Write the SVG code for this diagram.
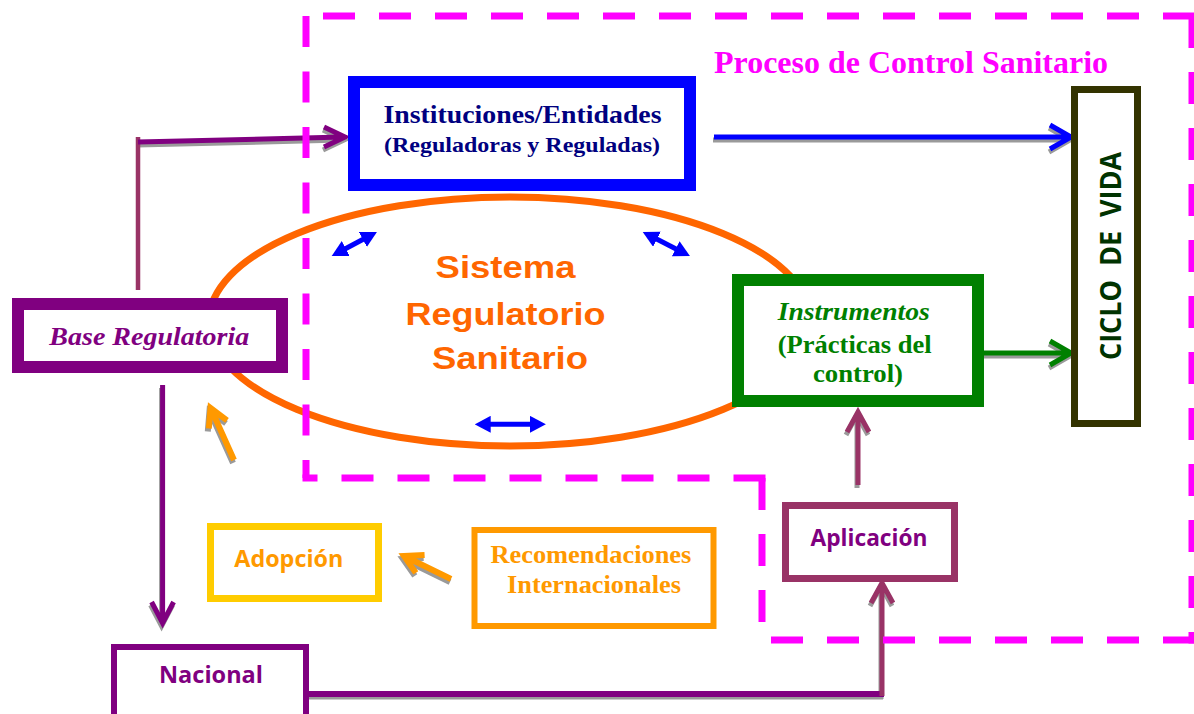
<svg xmlns="http://www.w3.org/2000/svg" xmlns:xlink="http://www.w3.org/1999/xlink" width="1194" height="714" viewBox="0 0 1194 714">
<style>
.box{fill:#fff}
.sans{font-family:"Open Sans","Liberation Sans",sans-serif;font-weight:bold}
.serif{font-family:"Liberation Serif","Times New Roman",serif;font-weight:bold}
.mid{text-anchor:middle}
.conn{fill:none;stroke-linejoin:miter;stroke-linecap:butt}
.sh{stroke:#9a9a9a}
.frame{fill:none;stroke:#FF00FF;stroke-width:7;stroke-dasharray:32 24}
</style>
<defs>
<marker id="dh" viewBox="0 0 16 17" refX="2" refY="8.5" markerWidth="16" markerHeight="17" markerUnits="userSpaceOnUse" orient="auto-start-reverse">
<path d="M0,0 L16,8.5 L0,17 Z" fill="#0000FF"/>
</marker>
<path id="a1" d="M138,142 L343,137.1 M324,127 L345,137 L324,147"/>
<path id="a2" d="M714,137 L1069,137 M1050,125 L1071,137 L1050,149"/>
<path id="a3" d="M984,353 L1069,353 M1050,341 L1071,353 L1050,365"/>
<path id="a4" d="M858,485 L858,414 M847,432 L858,412 L869,432"/>
<path id="a5h" d="M309,694 L884,694"/>
<path id="a5v" d="M882,696 L882,585 M871,603 L882,583 L893,603"/>
<path id="a6" d="M162.6,385 L162.6,621 M151.6,602 L162.6,623 L173.6,602"/>
<path id="a7" d="M451,579 L406,557 M424.6,554.9 L404,556 L415.8,572.9"/>
<path id="a8" d="M234,460 L211.5,410 M227,420.3 L210.5,408 L208.8,428.5"/>
</defs>
<rect width="1194" height="714" fill="#fff"/>

<g id="sistema">
<ellipse cx="510" cy="321.5" rx="301" ry="124.5" fill="none" stroke="#FF6600" stroke-width="7"/>
<text class="mid" font-family="Liberation Sans, Arial, sans-serif" font-weight="bold" font-size="32" fill="#FF6600">
<tspan x="510" y="278" textLength="140" lengthAdjust="spacingAndGlyphs">Sistema</tspan>
<tspan x="510" y="325" textLength="200" lengthAdjust="spacingAndGlyphs">Regulatorio</tspan>
<tspan x="510" y="369" textLength="156" lengthAdjust="spacingAndGlyphs">Sanitario</tspan>
</text>
</g>

<g id="connectors">
<g class="conn sh" stroke-width="5" transform="translate(-1,3)">
<use xlink:href="#a1"/><use xlink:href="#a2"/><use xlink:href="#a3"/><use xlink:href="#a4"/>
<use xlink:href="#a5h"/><use xlink:href="#a5v"/><use xlink:href="#a6"/>
<use xlink:href="#a7" stroke-width="6"/><use xlink:href="#a8" stroke-width="6"/>
</g>
<line x1="138" y1="290" x2="138" y2="137" stroke="#993366" stroke-width="4.5"/>
<use xlink:href="#a1" class="conn" stroke="#800080" stroke-width="5"/>
<use xlink:href="#a2" class="conn" stroke="#0000FF" stroke-width="5"/>
<use xlink:href="#a3" class="conn" stroke="#008000" stroke-width="5"/>
<use xlink:href="#a4" class="conn" stroke="#993366" stroke-width="5"/>
<use xlink:href="#a5h" class="conn" stroke="#800080" stroke-width="6"/>
<use xlink:href="#a5v" class="conn" stroke="#993366" stroke-width="5"/>
<use xlink:href="#a6" class="conn" stroke="#800080" stroke-width="5"/>
<use xlink:href="#a7" class="conn" stroke="#FF9900" stroke-width="6"/>
<use xlink:href="#a8" class="conn" stroke="#FF9900" stroke-width="6"/>
<g stroke="#0000FF" stroke-width="5" marker-start="url(#dh)" marker-end="url(#dh)">
<line x1="344" y1="249.5" x2="364.6" y2="238.5"/>
<line x1="655.2" y1="238.3" x2="677.5" y2="249.7"/>
<line x1="488.7" y1="424.3" x2="531.9" y2="424.3"/>
</g>
</g>

<g id="instituciones">
<rect class="box" x="354" y="82" width="336" height="103" stroke="#0000FF" stroke-width="12"/>
<text class="serif mid" x="522.5" y="123" font-size="26" fill="#000080" textLength="278" lengthAdjust="spacingAndGlyphs">Instituciones/Entidades</text>
<text class="serif mid" x="522" y="152" font-size="22" fill="#000080" textLength="276" lengthAdjust="spacingAndGlyphs">(Reguladoras y Reguladas)</text>
</g>

<g id="base-regulatoria">
<rect class="box" x="18" y="304" width="264" height="63" stroke="#800080" stroke-width="12"/>
<text class="serif mid" x="149.3" y="345" font-size="25" font-style="italic" fill="#800080" textLength="200" lengthAdjust="spacingAndGlyphs">Base Regulatoria</text>
</g>

<g id="instrumentos">
<rect class="box" x="738" y="280" width="240" height="121" stroke="#008000" stroke-width="12"/>
<text class="serif mid" font-size="26" fill="#008000">
<tspan x="857" y="320" font-style="italic" textLength="152" lengthAdjust="spacingAndGlyphs">Instrumentos</tspan>
<tspan x="858" y="353" textLength="154" lengthAdjust="spacingAndGlyphs">(Prácticas del</tspan>
<tspan x="858" y="382" textLength="90" lengthAdjust="spacingAndGlyphs">control)</tspan>
</text>
</g>

<g id="ciclo-de-vida">
<rect class="box" x="1074.5" y="89.5" width="63" height="334" stroke="#333300" stroke-width="7"/>
<text class="sans mid" transform="translate(1121,256) rotate(-90)" x="0" y="0" font-size="29" fill="#003300" style="white-space:pre" textLength="208" lengthAdjust="spacingAndGlyphs">CICLO  DE  VIDA</text>
</g>

<g id="aplicacion">
<rect class="box" x="785.5" y="505.5" width="169" height="73" stroke="#993366" stroke-width="7"/>
<text class="sans mid" x="869" y="546" font-size="23" fill="#800080" textLength="117" lengthAdjust="spacingAndGlyphs">Aplicación</text>
</g>

<g id="adopcion">
<rect class="box" x="210.5" y="526.5" width="168" height="72" stroke="#FFCC00" stroke-width="7"/>
<text class="sans mid" x="288.8" y="567" font-size="23" fill="#FF9900" textLength="109" lengthAdjust="spacingAndGlyphs">Adopción</text>
</g>

<g id="recomendaciones">
<rect class="box" x="474.5" y="530" width="239" height="96" stroke="#FF9900" stroke-width="6"/>
<text class="serif mid" font-size="25" fill="#FF9900">
<tspan x="594" y="563" textLength="201" lengthAdjust="spacingAndGlyphs">Recomendaciones</tspan>
<tspan x="594" y="593" textLength="174" lengthAdjust="spacingAndGlyphs">Internacionales</tspan>
</text>
</g>

<g id="nacional">
<rect class="box" x="114" y="647" width="192" height="100" stroke="#800080" stroke-width="6"/>
<text class="sans mid" x="211" y="683" font-size="23" fill="#800080" textLength="104" lengthAdjust="spacingAndGlyphs">Nacional</text>
</g>

<g id="proceso-control-sanitario">
<path class="frame" d="M306,16 L306,478" style="stroke-dasharray:31 24.5"/>
<path class="frame" d="M1195,16 L306,16"/>
<path class="frame" d="M1192,16 L1192,643.5"/>
<path class="frame" d="M1195,640 L762,640"/>
<path class="frame" d="M762,478 L762,640"/>
<path class="frame" d="M765.5,478 L302.5,478"/>
<text class="serif" x="714" y="73" font-size="32" fill="#FF00FF" textLength="394" lengthAdjust="spacingAndGlyphs">Proceso de Control Sanitario</text>
</g>
</svg>
